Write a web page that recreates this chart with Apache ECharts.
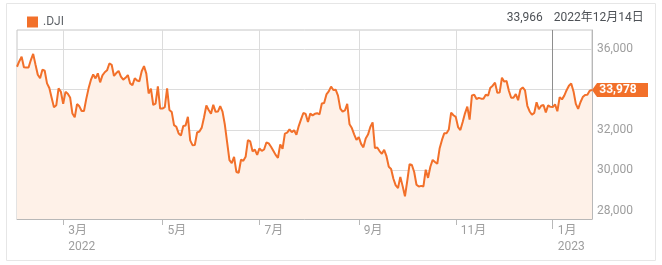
<!DOCTYPE html>
<html>
<head>
<meta charset="utf-8">
<script src="https://cdn.jsdelivr.net/npm/echarts@6/dist/echarts.min.js"></script>
<style>
html,body{margin:0;padding:0;background:#fff;}
#c{width:662px;height:265px;}
</style>
</head>
<body>
<div id="c"></div>
<script>
// ---- DATA (.DJI daily closes) ----
const seriesName = '.DJI';
const firstDay = '2022-01-31';
const lastDay = '2023-01-27';
const marketHolidays = ['2022-02-21','2022-04-15','2022-05-30','2022-06-20','2022-07-04','2022-09-05','2022-11-24','2022-12-26','2023-01-02','2023-01-16'];

const closesFeb22 = [35132,35405,35629,35111,35090,35091,35463,35768,35242,34738,34566,34989,34934,34312,34079,33597,33132,33224,34059,33893];
const closesMar22 = [33295,33891,33795,33615,32817,32633,33286,33174,32944,32945,33544,34063,34481,34755,34553,34807,34359,34708,34861,34956,35294,35229,34678];
const closesApr22 = [34818,34922,34641,34497,34584,34721,34308,34220,34565,34451,34412,34911,35161,34793,33811,34049,33240,33302,34161,33061];
const closesMay22 = [33062,33129,34061,32998,32899,32246,32161,31834,31730,32197,32223,32655,31490,31253,31262,31880,31929,32120,32637,33213,32990];
const closesJun22 = [32813,33248,32900,32916,33180,32911,32273,31393,30517,30365,30669,29927,29889,30530,30483,30677,31501,31438,30947,31029,30775];
const closesJul22 = [31097,30968,31038,31385,31338,31174,30981,30773,30630,31288,31073,31827,31875,32037,31899,31990,31762,32198,32530,32845];
const closesAug22 = [32798,32396,32813,32727,32803,32833,32774,33310,33337,33761,33912,34152,33980,33999,33707,33064,32910,32969,33292,32283,32099,31791,31510];
const closesSep22 = [31656,31318,31145,31581,31775,32152,32381,31105,31135,30962,30822,31020,30706,30184,30077,29590,29261,29135,29684,29226,28726];
const closesOct22 = [29491,30316,30274,29927,29297,29203,29239,29211,30039,29635,30186,30524,30424,30334,31083,31500,31837,31839,32033,32862,32733];
const closesNov22 = [32653,32148,32001,32403,32827,33161,32514,33715,33748,33537,33593,33554,33546,33746,33700,34098,34194,34347,33849,33853,34590];
const closesDec22 = [34395,34430,33947,33596,33598,33781,33476,34005,34109,33966,33202,32920,32758,32850,33376,33027,33204,33242,32876,33221,33147];
const closesJan23 = [33136,33270,32930,33631,33518,33704,33973,34190,34303,33911,33297,33045,33375,33630,33734,33744,33949,33978];

const yTickValues = [28000, 30000, 32000, 34000, 36000];
const xTickDates = ['2022-03-01','2022-05-02','2022-07-01','2022-09-01','2022-11-01','2023-01-03'];
const xTickLabels = ['3月\n2022','5月','7月','9月','11月','1月\n2023'];
const yearTickDates = ['2023-01-03'];

const crosshairDate = '2023-01-03';      // where the hover line is drawn in the picture
const crosshairValueText = '33,966';
const crosshairDateText = '2022年12月14日';
// -------------------------------------------------------

const closes = [].concat(closesFeb22, closesMar22, closesApr22, closesMay22, closesJun22,
  closesJul22, closesAug22, closesSep22, closesOct22, closesNov22, closesDec22, closesJan23);

function pad(n){return (n<10?'0':'')+n;}
function fmtDate(d){return d.getUTCFullYear()+'-'+pad(d.getUTCMonth()+1)+'-'+pad(d.getUTCDate());}
const dates = [];
for (let d = new Date(firstDay+'T00:00:00Z'); fmtDate(d) <= lastDay; d.setUTCDate(d.getUTCDate()+1)) {
  const wd = d.getUTCDay();
  const s = fmtDate(d);
  if (wd === 0 || wd === 6 || marketHolidays.indexOf(s) >= 0) continue;
  dates.push(s);
}

function comma(v){return String(Math.round(v)).replace(/\B(?=(\d{3})+(?!\d))/g, ',');}

const ORANGE = '#f2702a';
const FONT = 'Roboto, "Noto Sans CJK JP", sans-serif';
const tickSet = {};
xTickDates.forEach((d,i)=>{tickSet[d]=xTickLabels[i];});
const isTick = (idx, val) => tickSet[val] !== undefined;
const isYearTick = (idx, val) => yearTickDates.indexOf(val) >= 0;

const chart = echarts.init(document.getElementById('c'), null, {renderer:'canvas'});
const lastIdx = closes.length - 1;

chart.setOption({
  animation: false,
  backgroundColor: '#fff',
  textStyle: {fontFamily: FONT},
  legend: {
    left: 22, top: 11,
    icon: 'rect', itemWidth: 11, itemHeight: 11, itemGap: 10,
    textStyle: {color: '#5f6368', fontSize: 12, fontFamily: FONT},
    data: [{name: seriesName, itemStyle: {color: ORANGE}}]
  },
  grid: {
    left: 17, right: 70, top: 30, bottom: 46,
    show: true, borderColor: '#c6c6c6', borderWidth: 1, backgroundColor: 'transparent'
  },
  xAxis: [{
    type: 'category',
    data: dates,
    boundaryGap: false,
    axisLine: {show: true, lineStyle: {color: '#b8b8b8'}},
    axisTick: {show: true, interval: isTick, length: 6, lineStyle: {color: '#b8b8b8'}},
    splitLine: {show: true, interval: isTick, lineStyle: {color: '#dcdcdc', width: 1}},
    axisLabel: {
      interval: isTick,
      formatter: v => tickSet[v] || '',
      align: 'left',
      padding: [0,0,0,5],
      margin: 4,
      lineHeight: 16,
      color: '#9e9e9e', fontSize: 12, fontFamily: FONT
    }
  }, {
    type: 'category',
    data: dates,
    position: 'bottom',
    boundaryGap: false,
    axisLine: {show: false},
    axisLabel: {show: false},
    splitLine: {show: false},
    axisTick: {show: true, interval: isYearTick, length: 10, lineStyle: {color: '#b8b8b8'}}
  }],
  yAxis: {
    type: 'value',
    position: 'right',
    min: 27600, max: 36950,
    axisLine: {show: true, lineStyle: {color: '#b8b8b8'}},
    axisTick: {show: false, customValues: yTickValues},
    splitLine: {show: true, lineStyle: {color: '#dcdcdc', width: 1}},
    axisLabel: {
      customValues: yTickValues,
      formatter: v => comma(v),
      margin: 5, color: '#9e9e9e', fontSize: 12, fontFamily: FONT
    }
  },
  series: [
    {
      name: 'crosshair',
      type: 'line',
      data: [],
      z: 1,
      silent: true,
      markLine: {
        z: 1,
        silent: true,
        symbol: ['none','none'],
        label: {show: false},
        lineStyle: {color: '#8e8e8e', width: 1, type: 'solid'},
        data: [{xAxis: crosshairDate}]
      }
    },
    {
      name: seriesName,
      type: 'line',
      data: closes,
      z: 3,
      showSymbol: false,
      symbol: 'none',
      lineStyle: {color: ORANGE, width: 2},
      itemStyle: {color: ORANGE},
      areaStyle: {color: '#fef1e8', opacity: 1},
      markPoint: {
        z: 6,
        silent: true,
        symbol: 'path://M0,7L5,0L56,0L56,14L5,14Z',
        symbolSize: [56, 14],
        symbolKeepAspect: false,
        symbolOffset: [28, 0],
        itemStyle: {color: ORANGE},
        label: {
          show: true, position: 'inside', offset: [-2, 0],
          color: '#fff', fontWeight: 'bold', fontSize: 12, fontFamily: FONT,
          formatter: p => comma(p.value)
        },
        data: [{coord: [dates[lastIdx], closes[lastIdx]], value: closes[lastIdx]}]
      }
    }
  ]
});

const cx = chart.convertToPixel({xAxisIndex: 0}, crosshairDate);
chart.setOption({
  graphic: [
    {type: 'rect', silent: true, z: -10,
     shape: {x: 6.5, y: 3.5, width: 649, height: 257},
     style: {fill: 'none', stroke: '#e6e6e6', lineWidth: 1}},
    {type: 'text', silent: true, x: cx - 10, y: 18,
     style: {text: crosshairValueText, fill: '#4d5156', font: '12px ' + FONT, align: 'right', verticalAlign: 'middle'}},
    {type: 'text', silent: true, x: cx + 1, y: 18,
     style: {text: crosshairDateText, fill: '#4d5156', font: '12px ' + FONT, align: 'left', verticalAlign: 'middle'}}
  ]
});
</script>
</body>
</html>
